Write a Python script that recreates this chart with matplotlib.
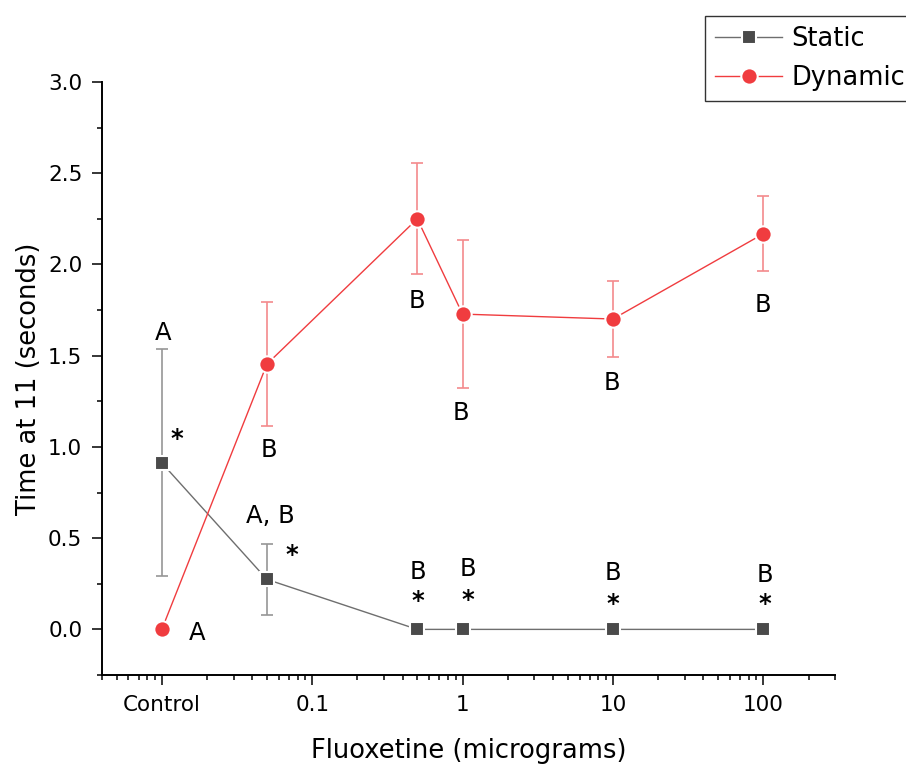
import matplotlib.pyplot as plt
from matplotlib.ticker import FixedLocator, FixedFormatter, LogLocator, MultipleLocator, NullFormatter

# dose (control drawn at 0.01 on the log axis)
doses = [0.01, 0.05, 0.5, 1, 10, 100]
tick_pos = [0.01, 0.1, 1, 10, 100]
tick_labels = ['Control', '0.1', '1', '10', '100']

static_mean = [0.912, 0.274, 0.0, 0.0, 0.0, 0.0]
static_err = [0.622, 0.195, 0.0, 0.0, 0.0, 0.0]
dynamic_mean = [0.0, 1.454, 2.250, 1.728, 1.701, 2.168]
dynamic_err = [0.0, 0.340, 0.305, 0.407, 0.209, 0.205]

static_letters = ['A', 'A, B', 'B', 'B', 'B', 'B']
static_stars = ['*', '*', '*', '*', '*', '*']
dynamic_letters = ['A', 'B', 'B', 'B', 'B', 'B']

# label offsets in pixels from each point
static_letter_off = [(1, 123), (3, 56), (1, 50), (5, 53), (0, 49), (2, 47)]
static_star_off = [(15, 17), (25, 17), (1, 21), (5, 22), (0, 18), (2, 18)]
dynamic_letter_off = [(35, -11), (2, -93), (0, -89), (-2, -106), (-1, -71), (0, -78)]

grey_line = '#6e6e6e'
grey_mark = '#4a4a4a'
grey_err = '#969696'
red_mark = '#f03c3f'
red_err = '#f48a8c'

fig = plt.figure(figsize=(9.06, 7.67), dpi=100)
ax = fig.add_axes([102 / 906, 92 / 767, 733 / 906, 593 / 767])

ax.errorbar(doses, static_mean, yerr=static_err, fmt='none', ecolor=grey_err,
            elinewidth=1.2, capsize=4, capthick=1.2, zorder=2)
ax.errorbar(doses, dynamic_mean, yerr=dynamic_err, fmt='none', ecolor=red_err,
            elinewidth=1.2, capsize=4, capthick=1.2, zorder=3)
ax.plot(doses, static_mean, color=grey_line, lw=1, marker='s', ms=10.2,
        mfc=grey_mark, mec='white', mew=1.5, label='Static', zorder=4)
ax.plot(doses, dynamic_mean, color=red_mark, lw=1, marker='o', ms=11.8,
        mfc=red_mark, mec='white', mew=1.5, label='Dynamic', zorder=5)

for i in range(len(doses)):
    ax.annotate(static_letters[i], (doses[i], static_mean[i]), xytext=static_letter_off[i],
                textcoords='offset pixels', ha='center', va='baseline', fontsize=17.5)
    ax.annotate(static_stars[i], (doses[i], static_mean[i]), xytext=static_star_off[i],
                textcoords='offset pixels', ha='center', va='baseline', fontsize=17.5,
                fontweight='bold')
    ax.annotate(dynamic_letters[i], (doses[i], dynamic_mean[i]), xytext=dynamic_letter_off[i],
                textcoords='offset pixels', ha='center', va='baseline', fontsize=17.5)

ax.set_xscale('log')
ax.set_xlim(0.004, 300)
ax.set_ylim(-0.25, 3.0)
ax.xaxis.set_major_locator(FixedLocator(tick_pos))
ax.xaxis.set_major_formatter(FixedFormatter(tick_labels))
ax.xaxis.set_minor_locator(LogLocator(base=10, subs=range(2, 10), numticks=20))
ax.xaxis.set_minor_formatter(NullFormatter())
ax.yaxis.set_major_locator(MultipleLocator(0.5))
ax.yaxis.set_minor_locator(MultipleLocator(0.25))
ax.yaxis.set_major_formatter(lambda v, p: f'{v:.1f}')

ax.spines['top'].set_visible(False)
ax.spines['right'].set_visible(False)
for s in ('left', 'bottom'):
    ax.spines[s].set_linewidth(1.4)
ax.tick_params(which='major', direction='out', length=7.2, width=1.1, labelsize=15.5, pad=7)
ax.tick_params(which='minor', direction='out', length=3.6, width=1.1)

ax.set_xlabel('Fluoxetine (micrograms)', fontsize=18.5, labelpad=17)
ax.set_ylabel('Time at 11 (seconds)', fontsize=18.5, labelpad=4)

leg = fig.legend(loc='upper left', bbox_to_anchor=(705 / 906, 1 - 16 / 767), fontsize=18.5,
                 frameon=True, fancybox=False, edgecolor='#333333', framealpha=1,
                 borderaxespad=0, borderpad=0.4, handlelength=2.6, handletextpad=0.35,
                 labelspacing=0.5)
leg.get_frame().set_linewidth(1.0)

fig.savefig('out.png', dpi=100)
